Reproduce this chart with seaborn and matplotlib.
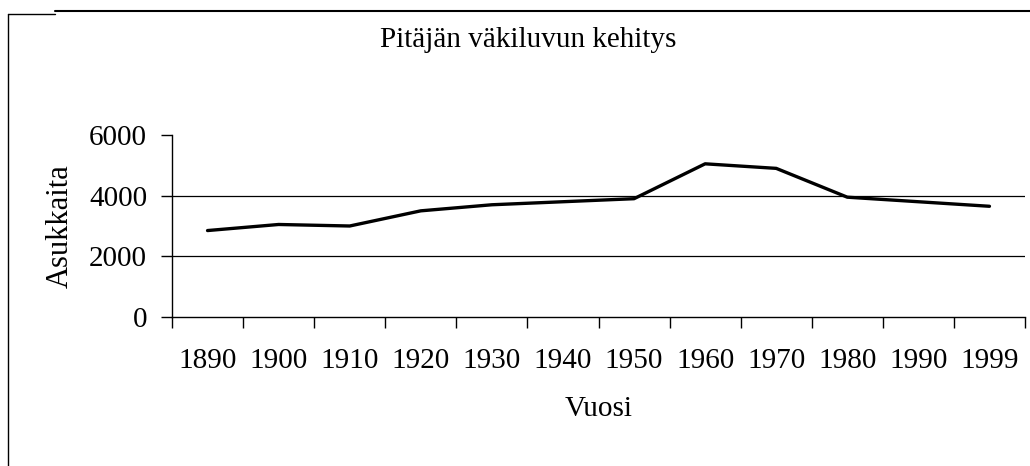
import matplotlib
matplotlib.use("Agg")
import matplotlib.pyplot as plt
from matplotlib.lines import Line2D
from matplotlib.ticker import FixedLocator
import seaborn as sns
import pandas as pd

vuodet = ["1890", "1900", "1910", "1920", "1930", "1940",
          "1950", "1960", "1970", "1980", "1990", "1999"]
asukkaita = [2850, 3050, 3000, 3500, 3700, 3800,
             3900, 5050, 4900, 3950, 3800, 3650]

sns.set_style("white")
plt.rcParams['font.family'] = ['Liberation Serif', 'DejaVu Serif']
plt.rcParams['text.color'] = 'black'
plt.rcParams['axes.labelcolor'] = 'black'
plt.rcParams['xtick.color'] = 'black'
plt.rcParams['ytick.color'] = 'black'

df = pd.DataFrame({"Vuosi": vuodet, "Asukkaita": asukkaita})

fig = plt.figure(figsize=(10.3, 4.66), dpi=100)
ax = fig.add_axes([172/1030, 1 - 317/466, (1025 - 172)/1030, (317 - 135)/466])

sns.lineplot(data=df, x="Vuosi", y="Asukkaita", ax=ax, color="black",
             linewidth=2.4, sort=False)

ax.set_xlim(-0.5, len(vuodet) - 0.5)
ax.set_ylim(0, 6000)
ax.set_yticks([0, 2000, 4000, 6000])

# gridlines only at 2000 and 4000
for v in [2000, 4000]:
    ax.axhline(v, color="black", linewidth=0.9, zorder=0)

# category boundary ticks on x axis
ax.xaxis.set_minor_locator(FixedLocator([i - 0.5 for i in range(len(vuodet) + 1)]))
ax.tick_params(axis="x", which="both", bottom=True)
ax.tick_params(axis="x", which="major", length=0, pad=22, labelsize=21)
ax.tick_params(axis="x", which="minor", length=8, width=1, direction="out", color="black")
ax.tick_params(axis="y", left=True, length=8, width=1, direction="out", pad=10,
               labelsize=21, color="black")

for side in ["top", "right"]:
    ax.spines[side].set_visible(False)
for side in ["left", "bottom"]:
    ax.spines[side].set_color("black")
    ax.spines[side].set_linewidth(1)

ax.set_xlabel("Vuosi", fontsize=21, labelpad=16)
ax.set_ylabel("Asukkaita", fontsize=22, labelpad=10)

fig.text(528/1030, 1 - 40/466, "Pitäjän väkiluvun kehitys", fontsize=21,
         ha="center", va="center")

# frame left over from the scanned page
fig.add_artist(Line2D([8/1030, 8/1030], [0, 1 - 14/466], color="black", linewidth=1))
fig.add_artist(Line2D([8/1030, 55/1030], [1 - 14/466, 1 - 14/466], color="black", linewidth=1))
fig.add_artist(Line2D([55/1030, 1], [1 - 11/466, 1 - 11/466], color="black", linewidth=1.5))

fig.savefig("out.png", dpi=100)
